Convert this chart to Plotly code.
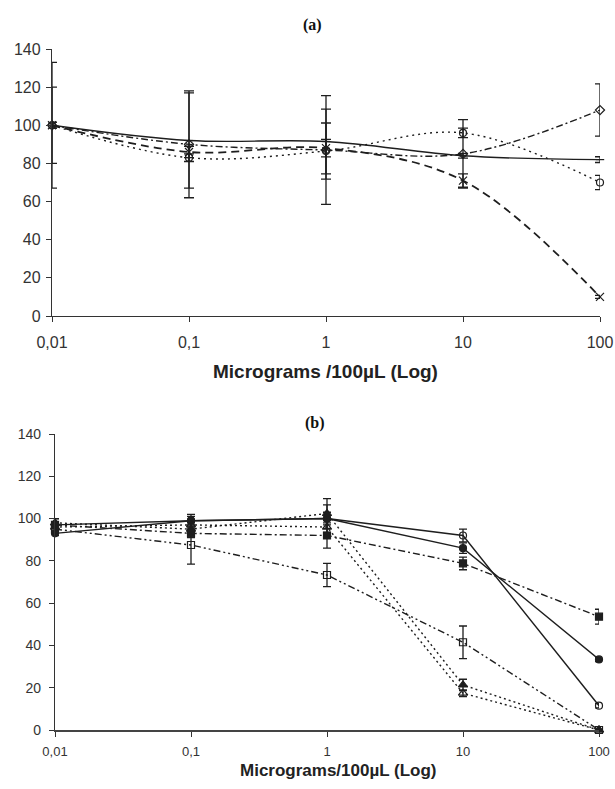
import plotly.graph_objects as go

# Concentrations (µg / 100 µL) on a log axis
doses = [0.01, 0.1, 1, 10, 100]
dose_labels = ["0,01", "0,1", "1", "10", "100"]
y_ticks = [0, 20, 40, 60, 80, 100, 120, 140]

# Panel (a) series: viability (%) and error
a_solid = [100, 92, 91.5, 84, 82]
a_solid_err = [20, 25, 17, 1.2, 1.5]
a_dash = [100, 86, 88, 71, 10]
a_dash_err = [1.5, 3, 4.6, 3.5, 0.8]
a_dashdot = [100, 90, 87, 85, 108]
a_dashdot_err = [33, 28, 28.5, 18, 13.7]
a_dot = [100, 83, 86.5, 96, 70]
a_dot_err = [1.5, 2, 14.7, 2.5, 3.7]

# Panel (b) series
b_open_circle = [97, 99, 100, 92, 11.5]
b_open_circle_err = [3, 3, 6.5, 3, 1]
b_filled_circle = [93, 99, 100, 86, 33.4]
b_filled_circle_err = [1, 2, 3, 2.5, 1]
b_filled_square = [97, 93, 92, 78.8, 53.6]
b_filled_square_err = [3, 2, 6, 3, 3.5]
b_open_square = [95, 87.5, 73.3, 41.5, 0]
b_open_square_err = [2, 9, 5.5, 7.7, 0]
b_filled_tri = [98, 95, 102.4, 21.3, 0]
b_filled_tri_err = [2, 3, 7, 2.7, 0]
b_open_tri = [96, 97, 96, 17.4, 0]
b_open_tri_err = [2, 2, 3, 1.6, 0]

INK = "#1e1e1e"
fig = go.Figure()


def add_series(y, err, dash, symbol, axis, shape, size=7, lw=1.4, cap=5):
    xa, ya = ("x", "y") if axis == 1 else ("x2", "y2")
    fig.add_trace(go.Scatter(
        x=doses, y=y, xaxis=xa, yaxis=ya, mode="lines+markers",
        line=dict(color=INK, width=lw, dash=dash, shape=shape, smoothing=1.0),
        marker=dict(symbol=symbol, size=size, color=INK,
                    line=dict(color=INK, width=1.2)),
        error_y=dict(type="data", array=err, visible=True, color=INK,
                     thickness=1.3, width=cap),
        showlegend=False, cliponaxis=False,
    ))


# panel (a): smoothed curves
add_series(a_solid, a_solid_err, "solid", "line-ew-open", 1, "spline", size=6)
add_series(a_dash, a_dash_err, "8px,5px", "x-thin-open", 1, "spline", size=8, lw=1.8)
add_series(a_dashdot, a_dashdot_err, "7px,3px,2px,3px", "diamond-open", 1, "spline", size=7)
add_series(a_dot, a_dot_err, "2px,4px", "circle-open", 1, "spline", size=7)

# panel (b): straight segments
add_series(b_open_circle, b_open_circle_err, "solid", "circle-open", 2, "linear", size=7, cap=4)
add_series(b_filled_circle, b_filled_circle_err, "solid", "circle", 2, "linear", size=7, cap=4)
add_series(b_filled_square, b_filled_square_err, "7px,3px,2px,3px", "square", 2, "linear", size=7, cap=4)
add_series(b_open_square, b_open_square_err, "7px,3px,2px,3px,2px,3px", "square-open", 2, "linear", size=7, cap=4)
add_series(b_filled_tri, b_filled_tri_err, "2px,3px", "triangle-up", 2, "linear", size=8, cap=4)
add_series(b_open_tri, b_open_tri_err, "2px,3px", "triangle-up-open", 2, "linear", size=8, cap=4)

W, H = 615, 789


def px_x(v):
    return v / W


def px_y(v):
    return 1 - v / H


xa_common = dict(type="log", range=[-2, 2], tickvals=doses, ticktext=dose_labels,
                 showgrid=False, zeroline=False, showline=True, linecolor="#333",
                 linewidth=1.3, ticks="outside", ticklen=5, tickcolor="#333",
                 automargin=False,
                 tickfont=dict(family="Liberation Sans", color="#333"))
ya_common = dict(range=[0, 140], tickvals=y_ticks, showgrid=False, zeroline=False,
                 showline=True, linecolor="#333", linewidth=1.3, ticks="outside",
                 ticklen=5, tickcolor="#333", automargin=False,
                 tickfont=dict(family="Liberation Sans", color="#333"))

fig.update_layout(
    width=W, height=H, margin=dict(l=0, r=0, t=0, b=0, autoexpand=False),
    paper_bgcolor="white", plot_bgcolor="white",
    xaxis=dict(**xa_common, domain=[px_x(52), px_x(600)], anchor="y",
               ticklabelstandoff=7),
    yaxis=dict(**ya_common, domain=[px_y(316), px_y(49)], anchor="x",
               ticklabelstandoff=2),
    xaxis2=dict(**xa_common, domain=[px_x(55), px_x(599)], anchor="y2",
                ticklabelstandoff=3),
    yaxis2=dict(**ya_common, domain=[px_y(730), px_y(434)], anchor="x2",
                ticklabelstandoff=5),
)
fig.update_xaxes(tickfont_size=16, selector=dict(anchor="y"))
fig.update_yaxes(tickfont_size=16, selector=dict(anchor="x"))
fig.update_xaxes(tickfont_size=13, linewidth=2.2, linecolor="#444",
                 selector=dict(anchor="y2"))
fig.update_yaxes(tickfont_size=14, selector=dict(anchor="x2"))


def label(text, cx, cy, family, size, color):
    fig.add_annotation(text=text, x=px_x(cx), y=px_y(cy), xref="paper", yref="paper",
                       xanchor="center", yanchor="middle", showarrow=False,
                       font=dict(family=family, size=size, color=color))


label("<b>(a)</b>", 312, 25, "Liberation Serif", 16, "#111")
label("<b>(b)</b>", 315, 423, "Liberation Serif", 16, "#111")
label("<b>Micrograms /100µL (Log)</b>", 326, 371, "Liberation Sans", 19, "#222")
label("<b>Micrograms/100µL (Log)</b>", 338, 770, "Liberation Sans", 17, "#222")

fig.write_html("out.html")
